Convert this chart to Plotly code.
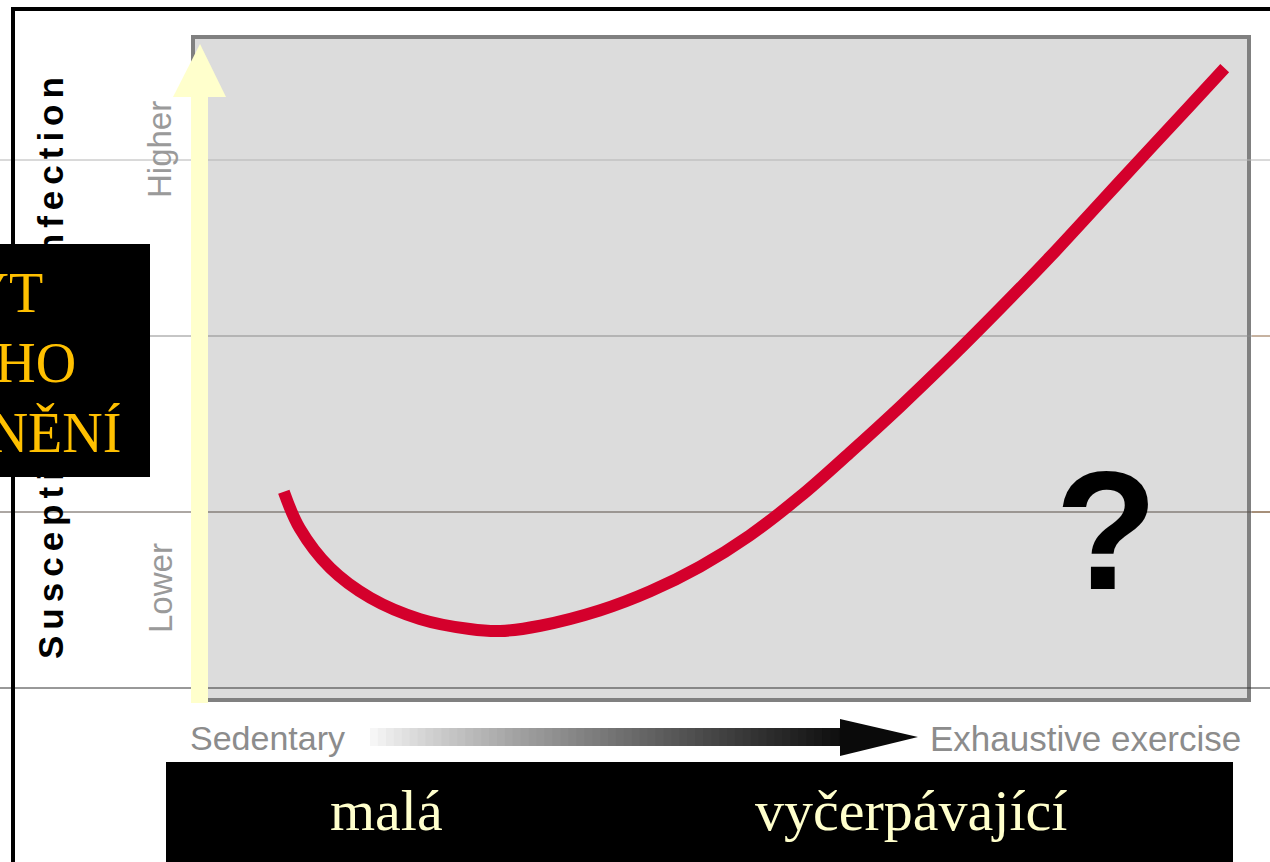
import plotly.graph_objects as go

# ---------------- data ----------------
exercise = [8.6, 10.1, 13.0, 16.8, 21.5, 26.2, 29.1, 32.9, 38.5, 43.3, 48.0,
            52.7, 57.5, 62.2, 67.0, 71.7, 76.4, 81.2, 85.9, 90.6, 94.4, 97.7]
susceptibility = [31.4, 25.9, 19.9, 15.4, 12.2, 10.7, 10.4, 11.2, 13.5, 16.4, 20.1,
                  24.8, 30.7, 37.3, 44.3, 51.5, 59.0, 66.9, 75.0, 83.1, 89.6, 95.3]
x_labels = ["Sedentary", "Exhaustive exercise"]
y_labels = ["Lower", "Higher"]
y_title = "Susceptibility to infection"
cz_x_labels = ["malá", "vyčerpávající"]
cz_y_lines = ["VÝSKYT", "INFEKČNÍHO", "ONEMOCNĚNÍ"]
mark_text = "?"

# ---------------- geometry ----------------
W, H = 1270, 862
L, R, T, B = 193, 1249, 37, 700


def fx(p):
    return (p - L) / (R - L)


def fy(p):
    return (B - p) / (B - T)


shapes = []

# plot box (below everything)
shapes.append(dict(type="rect", xref="paper", yref="paper",
                   x0=fx(193), x1=fx(1249), y0=fy(700), y1=fy(37),
                   fillcolor="#dcdcdc", line=dict(color="#808080", width=4),
                   layer="below"))

# full-width horizontal rules
for yy, col in [(160, "#b4b4b4"), (336, "#8c8c8c"), (512, "#5a5048"), (688, "#333333")]:
    shapes.append(dict(type="line", xref="paper", yref="paper",
                       x0=fx(0), x1=fx(1270), y0=fy(yy), y1=fy(yy),
                       line=dict(color=col, width=1), layer="below"))
for yy, col in [(336, "#c8a07c"), (512, "#a07850")]:
    shapes.append(dict(type="line", xref="paper", yref="paper",
                       x0=fx(1252), x1=fx(1270), y0=fy(yy), y1=fy(yy),
                       line=dict(color=col, width=1), layer="below"))

# yellow vertical arrow
shapes.append(dict(type="rect", xref="paper", yref="paper",
                   x0=fx(191), x1=fx(208), y0=fy(703), y1=fy(96),
                   fillcolor="#ffffcc", line=dict(width=0), layer="above"))
shapes.append(dict(type="path", xref="paper", yref="paper",
                   path=f"M {fx(173)},{fy(97)} L {fx(226)},{fy(97)} L {fx(200)},{fy(44)} Z",
                   fillcolor="#ffffcc", line=dict(width=0), layer="above"))

# slide frame
shapes.append(dict(type="rect", xref="paper", yref="paper",
                   x0=fx(11), x1=fx(1270), y0=fy(11), y1=fy(7),
                   fillcolor="black", line=dict(width=0), layer="above"))
shapes.append(dict(type="rect", xref="paper", yref="paper",
                   x0=fx(11), x1=fx(15), y0=fy(862), y1=fy(7),
                   fillcolor="black", line=dict(width=0), layer="above"))

# black boxes
shapes.append(dict(type="rect", xref="paper", yref="paper",
                   x0=fx(0), x1=fx(150), y0=fy(477), y1=fy(244),
                   fillcolor="black", line=dict(width=0), layer="above"))
shapes.append(dict(type="rect", xref="paper", yref="paper",
                   x0=fx(166), x1=fx(1233), y0=fy(862), y1=fy(762),
                   fillcolor="black", line=dict(width=0), layer="above"))

# gradient arrow (white -> black)
g0, g1, n = 370, 846, 60
step = (g1 - g0) / n
for i in range(n):
    t = (i + 0.5) / n
    v = int(round(250 - 238 * t ** 0.85))
    shapes.append(dict(type="rect", xref="paper", yref="paper",
                       x0=fx(g0 + i * step), x1=fx(g0 + (i + 1) * step + 0.8),
                       y0=fy(746), y1=fy(728),
                       fillcolor=f"rgb({v},{v},{v})", line=dict(width=0), layer="above"))
shapes.append(dict(type="path", xref="paper", yref="paper",
                   path=f"M {fx(840)},{fy(719)} L {fx(918)},{fy(737)} L {fx(840)},{fy(756)} Z",
                   fillcolor="#0a0a0a", line=dict(width=0), layer="above"))

fig = go.Figure()
fig.add_trace(go.Scatter(x=exercise, y=susceptibility, mode="lines",
                         line=dict(color="#d4002c", width=12, shape="spline", smoothing=1.0),
                         hoverinfo="skip", showlegend=False))

annotations = []
# gray axis labels
annotations.append(dict(text=x_labels[0], xref="paper", yref="paper",
                        x=fx(188), y=fy(738), xanchor="left", yanchor="middle",
                        showarrow=False, font=dict(family="Liberation Sans", size=34, color="#8c8c8c")))
annotations.append(dict(text=x_labels[1], xref="paper", yref="paper",
                        x=fx(1243), y=fy(738), xanchor="right", yanchor="middle",
                        showarrow=False, font=dict(family="Liberation Sans", size=35, color="#8c8c8c")))
annotations.append(dict(text=y_labels[1], xref="paper", yref="paper",
                        x=fx(160), y=fy(150), xanchor="center", yanchor="middle", textangle=-90,
                        showarrow=False, font=dict(family="Liberation Sans", size=33, color="#9a9a9a")))
annotations.append(dict(text=y_labels[0], xref="paper", yref="paper",
                        x=fx(160), y=fy(588), xanchor="center", yanchor="middle", textangle=-90,
                        showarrow=False, font=dict(family="Liberation Sans", size=33, color="#9a9a9a")))
annotations.append(dict(text=f"<span style='letter-spacing:6px'>{y_title}</span>",
                        xref="paper", yref="paper",
                        x=fx(50), y=fy(365), xanchor="center", yanchor="middle", textangle=-90,
                        showarrow=False, font=dict(family="Liberation Sans", size=35, color="black",
                                                   weight="bold")))
# question mark
annotations.append(dict(text=f"<b>{mark_text}</b>", xref="paper", yref="paper",
                        x=fx(1106), y=fy(531), xanchor="center", yanchor="middle",
                        showarrow=False, font=dict(family="Liberation Sans", size=168, color="black")))
# Czech labels
for txt, cx in zip(cz_x_labels, [386, 911]):
    annotations.append(dict(text=txt, xref="paper", yref="paper",
                            x=fx(cx), y=fy(810), xanchor="center", yanchor="middle",
                            showarrow=False,
                            font=dict(family="Liberation Serif", size=58, color="#ffffcc")))
for txt, rx, cy in zip(cz_y_lines, [45, 78, 123], [293, 363, 433]):
    annotations.append(dict(text=txt, xref="paper", yref="paper",
                            x=fx(rx), y=fy(cy), xanchor="right", yanchor="middle",
                            showarrow=False,
                            font=dict(family="Liberation Serif", size=56, color="#ffc000")))

fig.update_layout(
    width=W, height=H,
    margin=dict(l=L, r=W - R, t=T, b=H - B, pad=0),
    paper_bgcolor="white", plot_bgcolor="rgba(0,0,0,0)",
    xaxis=dict(range=[0, 100], visible=False, fixedrange=True),
    yaxis=dict(range=[0, 100], visible=False, fixedrange=True),
    shapes=shapes, annotations=annotations, showlegend=False,
)

fig.write_html("out.html", config={"displayModeBar": False},
               post_script="document.body.style.margin='0px';")
